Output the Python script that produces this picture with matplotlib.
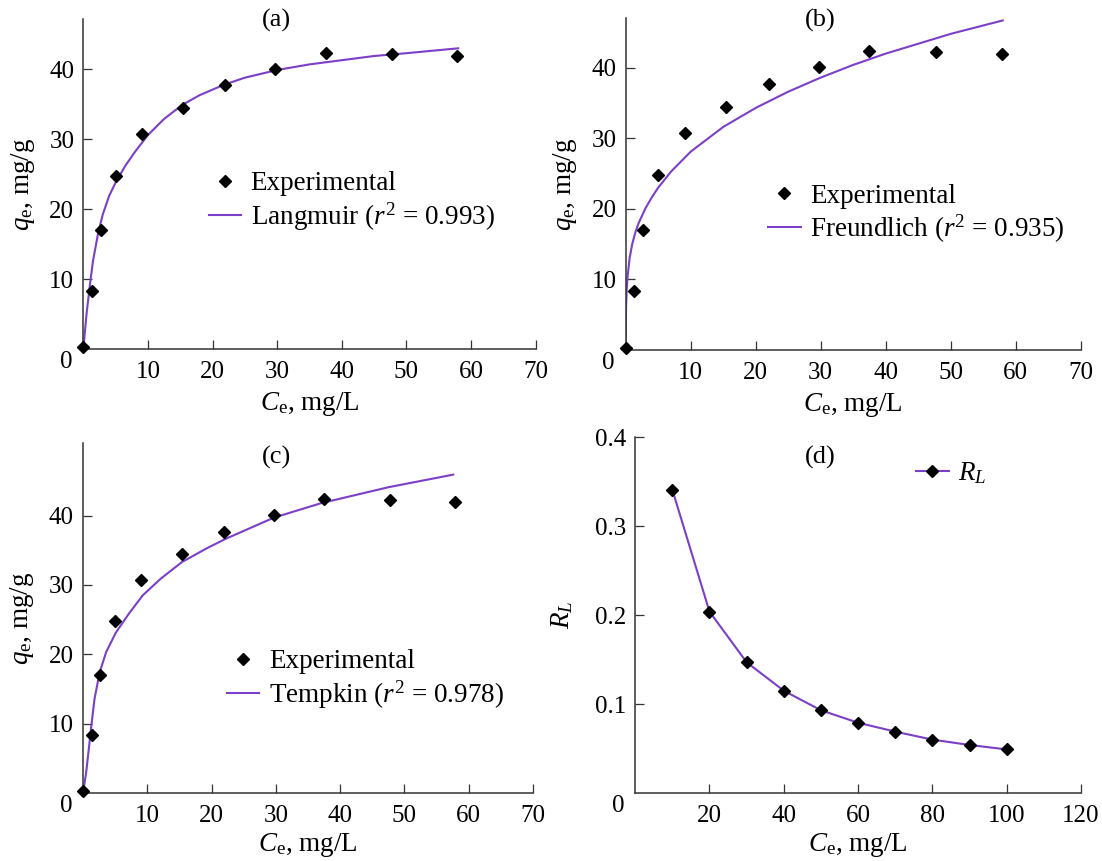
import matplotlib
matplotlib.use("Agg")
import matplotlib.pyplot as plt

plt.rcParams['font.family'] = ['Liberation Serif', 'DejaVu Serif']
plt.rcParams['mathtext.fontset'] = 'custom'
plt.rcParams['mathtext.rm'] = 'Liberation Serif'
plt.rcParams['mathtext.it'] = 'Liberation Serif:italic'
plt.rcParams['font.size'] = 18

PURPLE = '#7B3FC8'
AXCOL = '#333333'
TXT = 19.5   # legend / axis label size

# experimental isotherm data
ce_exp = [0.0, 1.35, 2.7, 5.0, 9.1, 15.4, 22.0, 29.7, 37.5, 47.8, 57.9]
qe_exp = [0.3, 8.3, 17.0, 24.8, 30.7, 34.4, 37.7, 40.1, 42.4, 42.2, 41.9]

# Langmuir fit curve
ce_lang = [0, 0.5, 1.0, 1.5, 2.3, 3.0, 4.0, 5.0, 6.5, 8.0, 10, 12.5, 15.3, 18,
           21.8, 25, 30, 35, 40, 45, 50, 58]
qe_lang = [0, 5.0, 9.0, 12.6, 16.6, 19.2, 21.9, 23.8, 26.2, 28.2, 30.6, 32.9,
           34.9, 36.3, 37.8, 38.8, 39.9, 40.7, 41.3, 41.9, 42.3, 43.0]

# Freundlich fit curve
ce_freu = [0, 0.05, 0.15, 0.3, 0.6, 1.0, 1.5, 2.0, 3.0, 4.0, 5.0, 7.0, 10, 15,
           20, 25, 30, 35, 40, 45, 50, 58]
qe_freu = [0, 6.0, 8.5, 10.5, 13.0, 15.0, 16.7, 18.0, 20.0, 21.6, 23.0, 25.3,
           28.1, 31.6, 34.3, 36.6, 38.6, 40.4, 42.0, 43.4, 44.8, 46.7]

# Tempkin fit curve
ce_temp = [0, 0.5, 0.9, 1.3, 1.8, 2.6, 3.6, 5.1, 7.1, 9.3, 12.1, 15.4, 19.3,
           22.1, 29.7, 37.1, 47.6, 57.6]
qe_temp = [0, 3.0, 6.3, 9.7, 13.6, 17.4, 20.3, 23.1, 25.8, 28.5, 30.9, 33.3,
           35.3, 36.6, 39.7, 41.8, 44.1, 45.9]

# separation factor
c0_rl = [10, 20, 30, 40, 50, 60, 70, 80, 90, 100]
rl = [0.341, 0.204, 0.147, 0.115, 0.093, 0.079, 0.069, 0.060, 0.054, 0.049]

fig = plt.figure(figsize=(11.02, 8.61), dpi=100)

ax_a = fig.add_axes([0.0756, 0.5947, 0.4105, 0.3833])
ax_b = fig.add_axes([0.5678, 0.5937, 0.4129, 0.3850])
ax_c = fig.add_axes([0.0753, 0.0790, 0.4083, 0.4068])
ax_d = fig.add_axes([0.5764, 0.0790, 0.4045, 0.4131])


def style_axes(ax):
    for side in ['top', 'right']:
        ax.spines[side].set_visible(False)
    for side in ['left', 'bottom']:
        ax.spines[side].set_color(AXCOL)
        ax.spines[side].set_linewidth(1.1)
    ax.tick_params(direction='in', length=6.5, width=0.9, color=AXCOL,
                   labelsize=18)
    ax.tick_params(axis='x', pad=9)
    ax.tick_params(axis='y', pad=6.5)
    ax.annotate('0', xy=(0, 0), xycoords='axes fraction', xytext=(-17, -13),
                textcoords='offset pixels', ha='center', va='center',
                fontsize=18)


def iso_panel(ax, ce_fit, qe_fit, fit_label, letter, ylim_top, leg_xy, tl_xy,
              xpad=5):
    style_axes(ax)
    ax.plot(ce_exp, qe_exp, linestyle='none', marker='D', ms=5.8, color='black',
            label='Experimental', clip_on=False, zorder=3)
    ax.plot(ce_fit, qe_fit, color=PURPLE, lw=1.5, label=fit_label, zorder=2)
    ax.set_xlim(0, 70)
    ax.set_ylim(0, ylim_top)
    ax.set_xticks([10, 20, 30, 40, 50, 60, 70])
    ax.set_yticks([10, 20, 30, 40])
    ax.set_xlabel(r'$C_{\mathrm{e}}$, mg/L', fontsize=TXT, labelpad=xpad)
    ax.set_ylabel(r'$q_{\mathrm{e}}$, mg/g', fontsize=TXT, labelpad=9)
    ax.text(tl_xy[0], tl_xy[1], letter, transform=ax.transAxes, ha='center',
            va='center', fontsize=19)
    ax.legend(loc='center left', bbox_to_anchor=leg_xy, frameon=False,
              fontsize=TXT, borderpad=0, borderaxespad=0, handlelength=1.2,
              handletextpad=0.35, labelspacing=0.15)


iso_panel(ax_a, ce_lang, qe_lang, r'Langmuir ($r^2$ = 0.993)', '(a)', 47.2,
          (0.277, 0.446), (0.428, 0.995))
iso_panel(ax_b, ce_freu, qe_freu, r'Freundlich ($r^2$ = 0.935)', '(b)', 47.0,
          (0.313, 0.408), (0.428, 0.993))
iso_panel(ax_c, ce_temp, qe_temp, r'Tempkin ($r^2$ = 0.978)', '(c)', 50.5,
          (0.32, 0.323), (0.431, 0.958), xpad=2.5)

# --- panel (d): separation factor ---
style_axes(ax_d)
ax_d.plot(c0_rl, rl, color=PURPLE, lw=1.5, marker='D', ms=5.8,
          markerfacecolor='black', markeredgecolor='black', label=r'$R_L$')
ax_d.set_xlim(0, 120)
ax_d.set_ylim(0, 0.4)
ax_d.set_xticks([20, 40, 60, 80, 100, 120])
ax_d.set_yticks([0.1, 0.2, 0.3, 0.4])
ax_d.set_yticklabels(['0.1', '0.2', '0.3', '0.4'])
ax_d.set_xlabel(r'$C_{\mathrm{e}}$, mg/L', fontsize=TXT, labelpad=2.5)
ax_d.set_ylabel(r'$R_L$', fontsize=TXT, labelpad=14)
ax_d.text(0.415, 0.944, '(d)', transform=ax_d.transAxes, ha='center',
          va='center', fontsize=19)
ax_d.legend(loc='center left', bbox_to_anchor=(0.63, 0.899), frameon=False,
            fontsize=TXT, borderpad=0, borderaxespad=0, handlelength=1.2,
            handletextpad=0.35)

fig.savefig('out.png', dpi=100)
